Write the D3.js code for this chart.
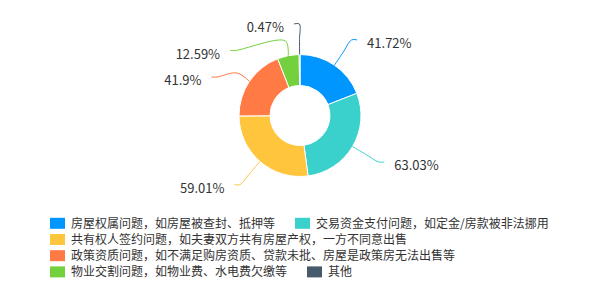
<!DOCTYPE html>
<html>
<head>
<meta charset="utf-8">
<script src="https://cdn.jsdelivr.net/npm/d3@7"></script>
<style>
  html, body { margin: 0; padding: 0; background: #fff; }
  text { font-family: "Microsoft YaHei", "Noto Sans CJK SC", "Noto Sans", sans-serif; }
</style>
</head>
<body>
<script>
// data
const names = [
  "房屋权属问题，如房屋被查封、抵押等",
  "交易资金支付问题，如定金/房款被非法挪用",
  "共有权人签约问题，如夫妻双方共有房屋产权，一方不同意出售",
  "政策资质问题，如不满足购房资质、贷款未批、房屋是政策房无法出售等",
  "物业交割问题，如物业费、水电费欠缴等",
  "其他"
];
const values = [41.72, 63.03, 59.01, 41.9, 12.59, 0.47];
const colors = ["#0096ff", "#3ad0cb", "#ffc53d", "#ff7a45", "#73d13d", "#465a6b"];

const w = 601;
const h = 300;
const cx = 300, cy = 115.5;
const rOut = 61, rIn = 30;
const len1 = 15;      // first part of the label line
const rLabel = 91.5;  // where the label line turns flat
const len2 = 5.5;
const labelGap = 26.5;

const svg = d3.select("body")
  .append("svg")
  .attr("width", w)
  .attr("height", h)
  .style("background-color", "#fff");

const pie = d3.pie().sort(null).value(d => d);
const arcs = pie(values);

const arc = d3.arc().innerRadius(rIn).outerRadius(rOut);

const g = svg.append("g").attr("transform", `translate(${cx},${cy})`);

g.selectAll("path.slice")
  .data(arcs)
  .enter()
  .append("path")
  .attr("class", "slice")
  .attr("d", arc)
  .attr("fill", (d, i) => colors[i])
  .attr("stroke", "#fff")
  .attr("stroke-width", 1);

// point on a circle at the middle angle of a slice
const pointAt = (d, r) => {
  const p = d3.arc().innerRadius(r).outerRadius(r).centroid(d);
  return [cx + p[0], cy + p[1]];
};

// label layout, a bit like echarts: shift overlapping labels then align on ellipse
const labels = arcs.map((d, i) => {
  const mid = (d.startAngle + d.endAngle) / 2;
  const dir = Math.sin(mid) >= 0 ? 1 : -1;
  const e = pointAt(d, rLabel);
  return { d, i, dir, ex: e[0] - cx, y: e[1] };
});

[1, -1].forEach(dir => {
  const side = labels.filter(l => l.dir === dir).sort((a, b) => a.y - b.y);
  for (let k = 1; k < side.length; k++) {
    side[k].y = Math.max(side[k].y, side[k - 1].y + labelGap);
  }
  [side.filter(l => l.y <= cy), side.filter(l => l.y > cy)].forEach(semi => {
    if (!semi.length) return;
    const far = semi.reduce((a, b) => Math.abs(b.y - cy) > Math.abs(a.y - cy) ? b : a);
    const fdy = Math.abs(far.y - cy);
    const rB = Math.abs(far.ex) < rLabel ? Math.sqrt(fdy * fdy / (1 - far.ex * far.ex / rLabel / rLabel)) : rLabel;
    semi.forEach(l => {
      const dy = Math.abs(l.y - cy);
      const dx = Math.sqrt(Math.max(0, 1 - dy * dy / rB / rB)) * rLabel;
      l.x = cx + dir * (dx + len2);
    });
  });
});

const line = d3.line().curve(d3.curveCatmullRom.alpha(0.5));

svg.selectAll("path.label-line")
  .data(labels)
  .enter()
  .append("path")
  .attr("class", "label-line")
  .attr("d", l => line([
    pointAt(l.d, rOut),
    pointAt(l.d, rOut + len1),
    [l.x - l.dir * len2, l.y],
    [l.x, l.y]
  ]))
  .attr("fill", "none")
  .attr("stroke", l => colors[l.i])
  .attr("stroke-width", 1);

svg.selectAll("text.label")
  .data(labels)
  .enter()
  .append("text")
  .attr("class", "label")
  .attr("x", l => l.x + l.dir * 10)
  .attr("y", l => l.y + 8)
  .attr("text-anchor", l => l.dir > 0 ? "start" : "end")
  .style("font-size", "13px")
  .attr("fill", "#333")
  .text(l => values[l.i] + "%");

// legend
const legendLeft = 50;
const legendRight = 565;
const legendTop = 223.3;
const rowH = 16.2;

const legend = svg.append("g").attr("id", "legend");
let lx = legendLeft, row = 0;
names.forEach((name, i) => {
  const item = legend.append("g");
  item.append("rect")
    .attr("width", 15)
    .attr("height", 11)
    .attr("y", -5.5)
    .attr("fill", colors[i]);
  const t = item.append("text")
    .attr("x", 21)
    .attr("dy", "0.35em")
    .style("font-size", "12px")
    .attr("fill", "#333")
    .text(name);
  const iw = 21 + t.node().getComputedTextLength();
  if (lx > legendLeft && lx + iw > legendRight) {
    lx = legendLeft;
    row++;
  }
  item.attr("transform", `translate(${lx}, ${legendTop + row * rowH})`);
  lx += iw + 20;
});
</script>
</body>
</html>
